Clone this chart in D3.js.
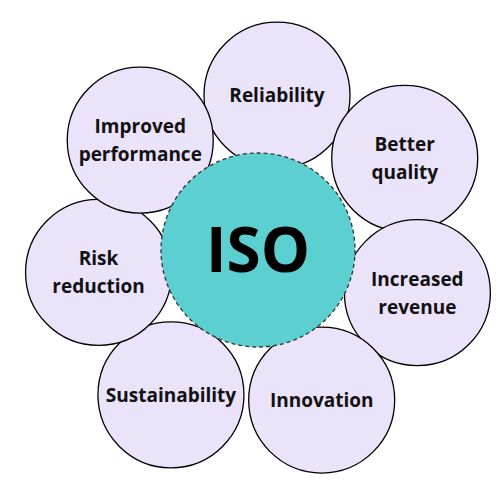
<!DOCTYPE html>
<html><head><meta charset="utf-8">
<script src="https://cdn.jsdelivr.net/npm/d3@7"></script>
<style>body{margin:0;background:#fff}</style>
</head><body>
<svg width="500" height="500"></svg>
<script>
// outer benefits, each as label lines + angle (deg) + distance from hub
const labels = [["Reliability"],["Better","quality"],["Increased","revenue"],["Innovation"],["Sustainability"],["Risk","reduction"],["Improved","performance"]];
const angles = [-83, -32, 15, 67, 121, 172, 223];
const dists = [156, 173, 165, 163, 169, 161, 161];
const hubLabel = "ISO";

const svg = d3.select('svg');
const cx = 258, cy = 250;
const rad = d3.scaleLinear().domain([0, 1]).range([0, 1]);

const nodes = labels.map((l, i) => {
  const a = angles[i] * Math.PI / 180;
  return {lines: l, x: cx + rad(dists[i]) * Math.cos(a), y: cy + rad(dists[i]) * Math.sin(a)};
});

const g = svg.selectAll('.petal').data(nodes).enter().append('g').classed('petal', true);
g.append('circle')
  .attr('cx', d => d.x).attr('cy', d => d.y).attr('r', 73)
  .attr('fill', '#ebe3fa').attr('stroke', '#000').attr('stroke-width', 1.3);
g.append('text')
  .attr('text-anchor', 'middle')
  .attr('font-family', 'Open Sans, sans-serif').attr('font-weight', 'bold')
  .attr('font-size', 19).attr('fill', '#111')
  .selectAll('tspan').data(d => d.lines.map((t, j) => ({t, j, n: d.lines.length, x: d.x, y: d.y})))
  .enter().append('tspan')
  .attr('x', d => d.x)
  .attr('y', d => d.y + 7 + (d.j - (d.n - 1) / 2) * 28)
  .text(d => d.t);

svg.append('circle').attr('cx', cx).attr('cy', cy).attr('r', 97)
  .attr('fill', '#5ccfd1').attr('stroke', '#333').attr('stroke-width', 1.3)
  .attr('stroke-dasharray', '4,3');
svg.append('text').attr('x', cx).attr('y', cy + 22).attr('text-anchor', 'middle')
  .attr('font-family', 'Open Sans, sans-serif').attr('font-weight', 'bold')
  .attr('font-size', 62).attr('fill', '#000').text(hubLabel);
</script>
</body></html>
